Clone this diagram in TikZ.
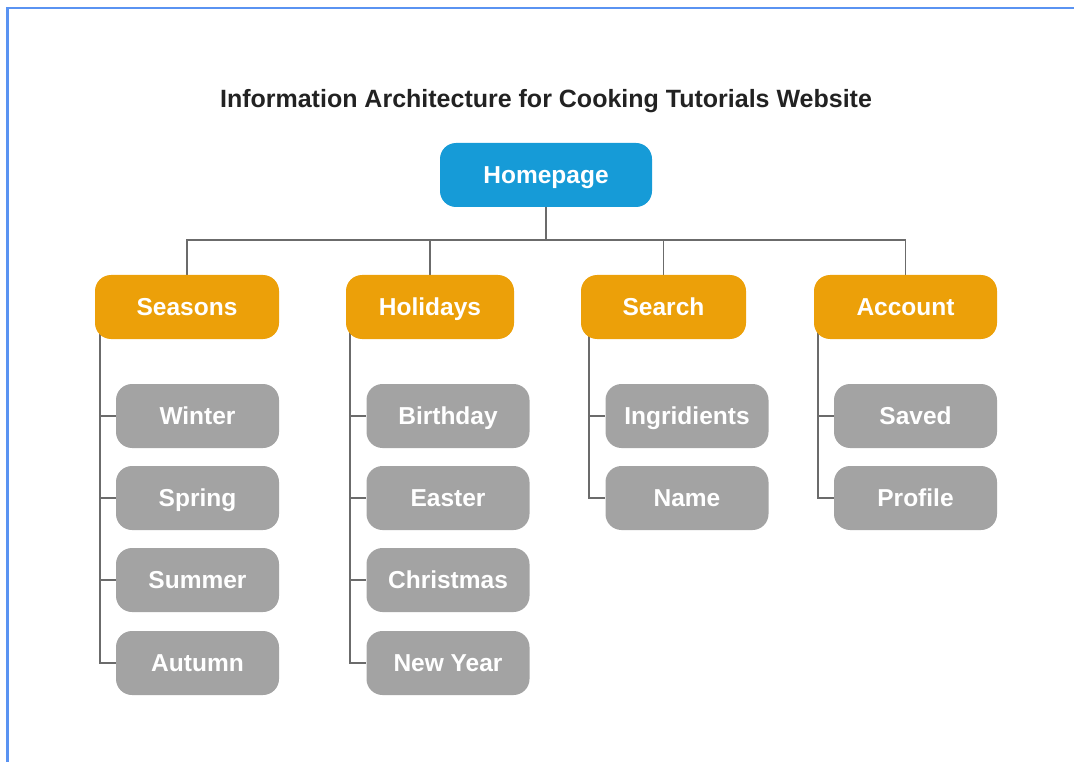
\documentclass[tikz,border=0pt]{standalone}
\usepackage{fontspec}
\setmainfont{Liberation Sans}
\usetikzlibrary{backgrounds}

\definecolor{homeblue}{HTML}{169BD7}
\definecolor{catorange}{HTML}{ECA009}
\definecolor{leafgray}{HTML}{A3A3A3}
\definecolor{linegray}{HTML}{6B6B6B}
\definecolor{framblue}{HTML}{5A93F2}
\definecolor{titletext}{HTML}{222222}

\tikzset{
  box/.style={rounded corners=16pt, minimum height=64pt, inner sep=0pt,
    text=white, font=\fontsize{24.5}{28}\selectfont\bfseries,
    text height=22pt, text depth=4.4pt},
  homebox/.style={box, fill=homeblue, minimum width=212pt},
  catbox/.style={box, fill=catorange},
  leafbox/.style={box, fill=leafgray, minimum width=163pt},
  link/.style={draw=linegray, line width=1.4pt}
}

\begin{document}
\begin{tikzpicture}[x=1pt, y=-1pt]
\useasboundingbox (0,0) rectangle (1074,762);
% frame
\draw [framblue, line width=2.2pt] (7.5,762) -- (7.5,8) -- (1074,8);
% title
\node (title) [text=titletext, font=\fontsize{25}{30}\selectfont\bfseries,
  text height=22.5pt, text depth=4.5pt, inner sep=0pt] at (546,99)
  {Information Architecture for Cooking Tutorials Website};
% top level
\node (home) [homebox] at (546,175) {Homepage};
\node (seasons) [catbox, minimum width=184pt] at (187,307) {Seasons};
\node (holidays) [catbox, minimum width=168pt] at (430,307) {Holidays};
\node (search) [catbox, minimum width=165pt] at (663.5,307) {Search};
\node (account) [catbox, minimum width=183pt] at (905.5,307) {Account};
% Seasons
\node (winter) [leafbox] at (197.5,416) {Winter};
\node (spring) [leafbox] at (197.5,498) {Spring};
\node (summer) [leafbox] at (197.5,580) {Summer};
\node (autumn) [leafbox] at (197.5,663) {Autumn};
% Holidays
\node (birthday) [leafbox] at (448,416) {Birthday};
\node (easter) [leafbox] at (448,498) {Easter};
\node (christmas) [leafbox] at (448,580) {Christmas};
\node (newyear) [leafbox] at (448,663) {New Year};
% Search
\node (ingr) [leafbox] at (687,416) {Ingridients};
\node (name) [leafbox] at (687,498) {Name};
% Account
\node (saved) [leafbox] at (915.5,416) {Saved};
\node (profile) [leafbox] at (915.5,498) {Profile};
% connectors
\coordinate (bus) at (546,240);
\begin{scope}[on background layer]
\draw [link] (home.south) -- (bus);
\draw [link] (seasons.north) |- (bus);
\draw [link] (holidays.north) |- (bus);
\draw [link] (search.north) |- (bus);
\draw [link] (account.north) |- (bus);
\draw [link] ([xshift=5pt, yshift=10pt]seasons.south west) |- (winter.west);
\draw [link] ([xshift=5pt, yshift=10pt]seasons.south west) |- (spring.west);
\draw [link] ([xshift=5pt, yshift=10pt]seasons.south west) |- (summer.west);
\draw [link] ([xshift=5pt, yshift=10pt]seasons.south west) |- (autumn.west);
\draw [link] ([xshift=4pt, yshift=10pt]holidays.south west) |- (birthday.west);
\draw [link] ([xshift=4pt, yshift=10pt]holidays.south west) |- (easter.west);
\draw [link] ([xshift=4pt, yshift=10pt]holidays.south west) |- (christmas.west);
\draw [link] ([xshift=4pt, yshift=10pt]holidays.south west) |- (newyear.west);
\draw [link] ([xshift=8pt, yshift=10pt]search.south west) |- (ingr.west);
\draw [link] ([xshift=8pt, yshift=10pt]search.south west) |- (name.west);
\draw [link] ([xshift=4pt, yshift=10pt]account.south west) |- (saved.west);
\draw [link] ([xshift=4pt, yshift=10pt]account.south west) |- (profile.west);
\end{scope}
\end{tikzpicture}
\end{document}
